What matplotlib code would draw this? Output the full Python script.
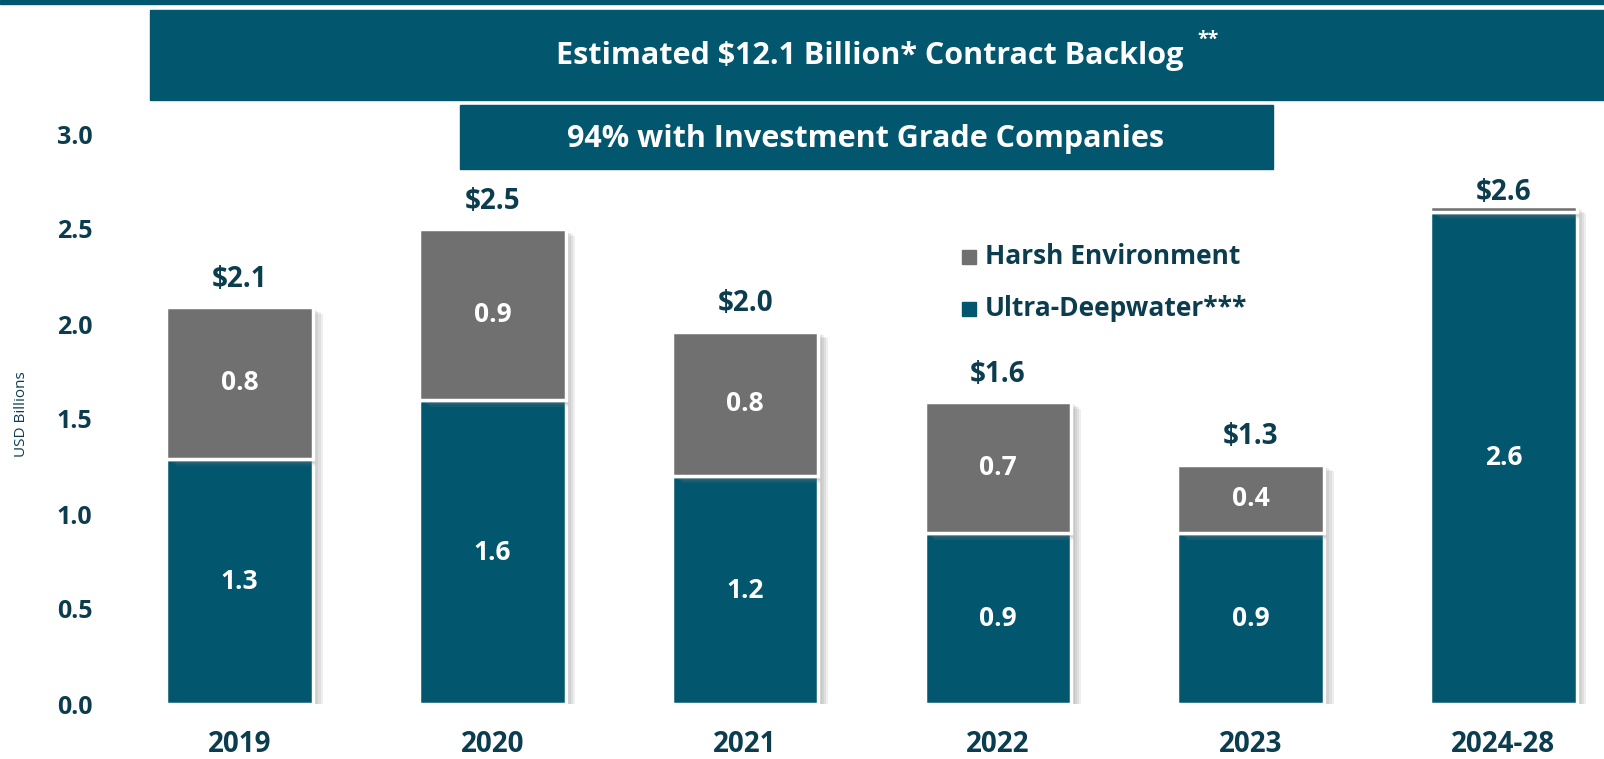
import matplotlib.pyplot as plt
import matplotlib.patheffects as pe
from matplotlib.patches import Rectangle

# backlog by year, USD billions
years = ["2019", "2020", "2021", "2022", "2023", "2024-28"]
udw = [1.29, 1.60, 1.20, 0.90, 0.90, 2.59]
harsh = [0.80, 0.90, 0.76, 0.69, 0.36, 0.03]
udw_labels = ["1.3", "1.6", "1.2", "0.9", "0.9", "2.6"]
harsh_labels = ["0.8", "0.9", "0.8", "0.7", "0.4", ""]
total_labels = ["$2.1", "$2.5", "$2.0", "$1.6", "$1.3", "$2.6"]
yticks = [0.0, 0.5, 1.0, 1.5, 2.0, 2.5, 3.0]

TEAL = "#02566E"
GREY = "#707070"
DARK = "#0B3D4F"

plt.rcParams['font.family'] = ['Open Sans', 'DejaVu Sans']

W, H = 1604, 759
fig = plt.figure(figsize=(W/100, H/100), dpi=100)
ax = fig.add_axes([120/W, 55/H, 1 - 120/W, 1 - 55/H])

# soft drop shadow built from a few offset copies
shadow = [pe.SimplePatchShadow(offset=(k, -k * 0.7), shadow_rgbFace='#808080', alpha=0.13)
          for k in (7, 5.5, 4, 2.5)] + [pe.Normal()]

x = list(range(len(years)))
b1 = ax.bar(x, udw, width=0.58, color=TEAL, edgecolor='white', linewidth=2.5, zorder=2)
b2 = ax.bar(x, harsh, width=0.58, bottom=udw, color=GREY, edgecolor='white', linewidth=2.5, zorder=2)
for r in list(b1) + list(b2):
    r.set_path_effects(shadow)

for i in x:
    ax.text(i, udw[i] / 2, udw_labels[i], ha='center', va='center', color='white',
            fontsize=19, fontweight='bold', zorder=3)
    if harsh_labels[i]:
        ax.text(i, udw[i] + harsh[i] / 2, harsh_labels[i], ha='center', va='center',
                color='white', fontsize=19, fontweight='bold', zorder=3)
    top = udw[i] + harsh[i]
    off = 10 if harsh[i] < 0.1 else 20
    ax.annotate(total_labels[i], (i, top), xytext=(0, off), textcoords='offset points',
                ha='center', va='center', color=DARK, fontsize=20, fontweight='bold', zorder=4)

ax.set_xlim(-0.473, 5.398)
ax.set_ylim(0, 704 / 190)
ax.set_yticks(yticks)
ax.set_yticklabels([f"{v:.1f}" for v in yticks])
ax.set_xticks(x)
ax.set_xticklabels(years)
ax.tick_params(axis='y', length=0, pad=20, labelsize=18, labelcolor=DARK)
ax.tick_params(axis='x', length=0, pad=19, labelsize=20, labelcolor=DARK)
for lbl in ax.get_xticklabels() + ax.get_yticklabels():
    lbl.set_fontweight('bold')
for s in ax.spines.values():
    s.set_visible(False)
ax.patch.set_alpha(0)

fig.text(22 / W, 1 - 414 / H, "USD Billions", rotation=90, ha='center', va='center',
         color=DARK, fontsize=11)

# legend
for lab, col, yy in [("Harsh Environment", GREY, 257), ("Ultra-Deepwater***", TEAL, 309)]:
    fig.patches.append(Rectangle((962 / W, 1 - (yy + 7) / H), 14 / W, 14 / H,
                                 transform=fig.transFigure, color=col))
    fig.text(985 / W, 1 - yy / H, lab, ha='left', va='center', color=DARK,
             fontsize=19, fontweight='bold')

# banners
fig.patches.append(Rectangle((0, 1 - 4 / H), 1, 4 / H, transform=fig.transFigure, color=TEAL))
fig.patches.append(Rectangle((150 / W, 1 - 100 / H), (W - 150) / W, 90 / H,
                             transform=fig.transFigure, color=TEAL))
fig.patches.append(Rectangle((460 / W, 1 - 169 / H), (1273 - 460) / W, 64 / H,
                             transform=fig.transFigure, color=TEAL))
fig.text(870 / W, 1 - 56 / H, "Estimated $12.1 Billion* Contract Backlog", ha='center',
         va='center', color='white', fontsize=22, fontweight='bold')
fig.text(1197 / W, 1 - 40 / H, "**", ha='left', va='center', color='white',
         fontsize=14, fontweight='bold')
fig.text(866 / W, 1 - 139 / H, "94% with Investment Grade Companies", ha='center',
         va='center', color='white', fontsize=22, fontweight='bold')

fig.savefig("out.png", dpi=100)
